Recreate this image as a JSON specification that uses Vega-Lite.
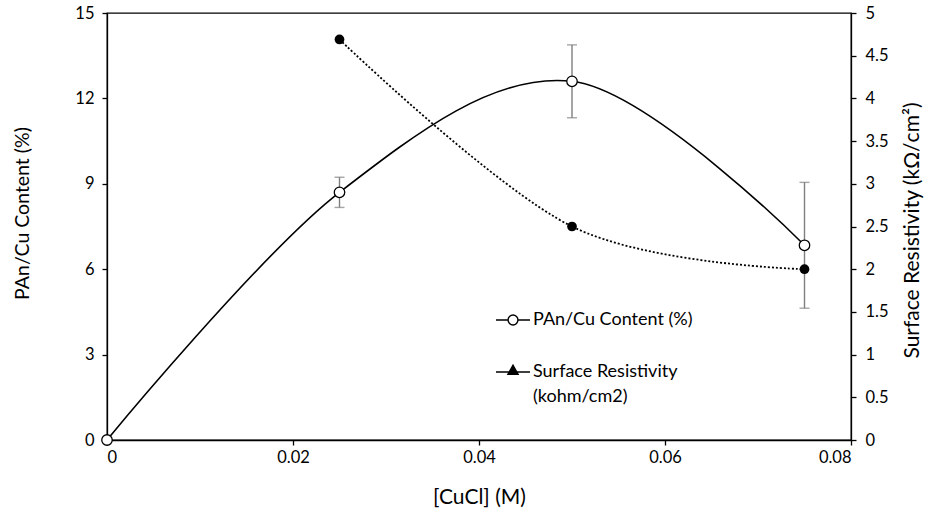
{
  "$schema": "https://vega.github.io/schema/vega-lite/v6.json",
  "width": 744,
  "height": 427,
  "autosize": "none",
  "padding": {"left": 107, "top": 13, "right": 77, "bottom": 75},
  "background": "white",
  "config": {
    "font": "Lato",
    "view": {"stroke": "black", "strokeWidth": 1.3},
    "axis": {
      "grid": false,
      "domainColor": "black",
      "domainWidth": 1.3,
      "tickColor": "black",
      "tickWidth": 1.3,
      "tickSize": 5,
      "labelFontSize": 16.5,
      "labelColor": "black",
      "labelFont": "Lato",
      "titleFont": "Lato",
      "titleFontSize": 20,
      "titleFontWeight": "normal",
      "titleColor": "black"
    }
  },
  "data": {
    "values": [
      {"series": "PAn/Cu Content (%)", "x": 0, "value": 0, "lo": null, "hi": null},
      {"series": "PAn/Cu Content (%)", "x": 0.025, "value": 8.7, "lo": 8.17, "hi": 9.23},
      {"series": "PAn/Cu Content (%)", "x": 0.05, "value": 12.6, "lo": 11.32, "hi": 13.88},
      {"series": "PAn/Cu Content (%)", "x": 0.075, "value": 6.84, "lo": 4.63, "hi": 9.05},
      {"series": "Surface Resistivity (kohm/cm2)", "x": 0.025, "value": 4.69, "lo": null, "hi": null},
      {"series": "Surface Resistivity (kohm/cm2)", "x": 0.05, "value": 2.5, "lo": null, "hi": null},
      {"series": "Surface Resistivity (kohm/cm2)", "x": 0.075, "value": 2.0, "lo": null, "hi": null}
    ]
  },
  "encoding": {
    "x": {
      "field": "x",
      "type": "quantitative",
      "scale": {"domain": [0, 0.08], "nice": false, "zero": false},
      "axis": {
        "title": "[CuCl] (M)",
        "titleFontSize": 21,
        "values": [0, 0.02, 0.04, 0.06, 0.08],
        "format": ".2~f",
        "labelPadding": 4,
        "titlePadding": 21
      }
    }
  },
  "layer": [
    {
      "transform": [{"filter": "datum.series == 'PAn/Cu Content (%)'"}],
      "encoding": {
        "y": {
          "field": "value",
          "type": "quantitative",
          "scale": {"domain": [0, 15], "nice": false},
          "axis": {
            "orient": "left",
            "title": "PAn/Cu Content (%)",
            "titleFontSize": 19.5,
            "titleY": 200,
            "values": [0, 3, 6, 9, 12, 15],
            "labelPadding": 8,
            "titlePadding": 42
          }
        }
      },
      "layer": [
        {
          "mark": {"type": "line", "interpolate": "cardinal", "color": "black", "strokeWidth": 1.6},
          "encoding": {}
        },
        {
          "transform": [{"filter": "datum.lo != null"}],
          "mark": {"type": "rule", "color": "#7f7f7f", "strokeWidth": 1.4},
          "encoding": {
            "y": {"field": "lo", "type": "quantitative"},
            "y2": {"field": "hi"}
          }
        },
        {
          "transform": [{"filter": "datum.lo != null"}],
          "mark": {"type": "tick", "orient": "horizontal", "color": "#7f7f7f", "size": 10, "thickness": 1.4},
          "encoding": {"y": {"field": "lo", "type": "quantitative"}}
        },
        {
          "transform": [{"filter": "datum.lo != null"}],
          "mark": {"type": "tick", "orient": "horizontal", "color": "#7f7f7f", "size": 10, "thickness": 1.4},
          "encoding": {"y": {"field": "hi", "type": "quantitative"}}
        },
        {
          "mark": {"type": "point", "shape": "circle", "filled": true, "fill": "white", "stroke": "black", "strokeWidth": 1.3, "size": 110, "opacity": 1},
          "encoding": {}
        }
      ]
    },
    {
      "encoding": {
        "y": {
          "field": "value",
          "type": "quantitative",
          "scale": {"domain": [0, 5], "nice": false},
          "axis": {
            "orient": "right",
            "title": "Surface Resistivity (kΩ/cm²)",
            "titleFontSize": 21,
            "titleAngle": -90,
            "titleBaseline": "top",
            "titleY": 217,
            "values": [0, 0.5, 1, 1.5, 2, 2.5, 3, 3.5, 4, 4.5, 5],
            "format": "~g",
            "labelPadding": 9,
            "titlePadding": 13
          }
        }
      },
      "layer": [
        {
          "transform": [{"filter": "datum.series != 'PAn/Cu Content (%)'"}],
          "mark": {"type": "line", "interpolate": "cardinal", "color": "black", "strokeWidth": 1.8, "strokeDash": [2, 2]},
          "encoding": {}
        },
        {
          "transform": [{"filter": "datum.series != 'PAn/Cu Content (%)'"}],
          "mark": {"type": "point", "shape": "circle", "filled": true, "color": "black", "size": 95, "opacity": 1},
          "encoding": {}
        },
        {
          "mark": {"type": "point", "filled": true, "stroke": "black", "strokeWidth": 1.4, "opacity": 0},
          "encoding": {
            "shape": {
              "field": "series",
              "type": "nominal",
              "scale": {
                "domain": ["PAn/Cu Content (%)", "Surface Resistivity (kohm/cm2)"],
                "range": [
                  "M-1,0H-0.29M0.29,0H1M-0.29,0A0.29,0.29,0,1,1,0.29,0A0.29,0.29,0,1,1,-0.29,0Z",
                  "M-1,0H1M-0.3,0.14L0,-0.4L0.3,0.14Z"
                ]
              },
              "legend": {
                "title": null,
                "orient": "none",
                "legendX": 388,
                "legendY": 289,
                "padding": 0,
                "symbolSize": 1156,
                "symbolStrokeWidth": 1.4,
                "symbolStrokeColor": "black",
                "labelFontSize": 18,
                "labelFont": "Lato",
                "labelColor": "black",
                "labelLimit": 300,
                "labelOffset": 2,
                "rowPadding": 25,
                "labelExpr": "datum.label == 'Surface Resistivity (kohm/cm2)' ? ['Surface Resistivity', '(kohm/cm2)'] : datum.label",
                "encode": {
                  "symbols": {"update": {"opacity": {"value": 1}, "fillOpacity": {"value": 1}, "strokeOpacity": {"value": 1}}},
                  "labels": {"update": {"lineHeight": {"value": 25}}}
                }
              }
            },
            "fill": {
              "field": "series",
              "type": "nominal",
              "scale": {
                "domain": ["PAn/Cu Content (%)", "Surface Resistivity (kohm/cm2)"],
                "range": ["white", "black"]
              },
              "legend": {
                "title": null,
                "orient": "none",
                "legendX": 388,
                "legendY": 289,
                "padding": 0,
                "symbolSize": 1156,
                "symbolStrokeWidth": 1.4,
                "symbolStrokeColor": "black",
                "labelFontSize": 18,
                "labelFont": "Lato",
                "labelColor": "black",
                "labelLimit": 300,
                "labelOffset": 2,
                "rowPadding": 25,
                "labelExpr": "datum.label == 'Surface Resistivity (kohm/cm2)' ? ['Surface Resistivity', '(kohm/cm2)'] : datum.label",
                "encode": {
                  "symbols": {"update": {"opacity": {"value": 1}, "fillOpacity": {"value": 1}, "strokeOpacity": {"value": 1}}},
                  "labels": {"update": {"lineHeight": {"value": 25}}}
                }
              }
            }
          }
        }
      ]
    }
  ],
  "resolve": {"scale": {"y": "independent"}}
}
